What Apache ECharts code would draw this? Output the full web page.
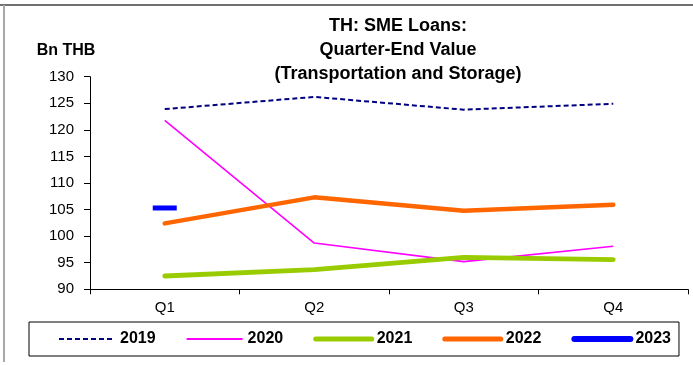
<!DOCTYPE html>
<html>
<head>
<meta charset="utf-8">
<script src="https://cdn.jsdelivr.net/npm/echarts@6/dist/echarts.min.js"></script>
<style>
  html, body { margin: 0; padding: 0; background: #fff; }
  #chart { width: 693px; height: 365px; }
</style>
</head>
<body>
<div id="chart"></div>
<script>
// Quarter-end SME loan balances, transportation & storage sector (Bn THB)
const quarters = ['Q1', 'Q2', 'Q3', 'Q4'];
const loans2019 = [123.9, 126.2, 123.8, 124.9];
const loans2020 = [121.8, 98.7, 95.2, 98.1];
const loans2021 = [92.5, 93.7, 96.0, 95.6];
const loans2022 = [102.4, 107.3, 104.8, 105.9];
const loans2023 = [105.3];
const yTicks = { min: 90, max: 130, step: 5 };

const FONT = 'Liberation Sans, Arial, sans-serif';

const chart = echarts.init(document.getElementById('chart'), null, { renderer: 'canvas' });

function lineSeries(name, data, color, width, type, cap) {
  return {
    name, type: 'line', data,
    symbol: 'none', smooth: false,
    lineStyle: { color, width, type, cap: cap || 'butt' },
    itemStyle: { color },
    emphasis: { disabled: true },
    animation: false
  };
}

// 2023 has a single quarter so far: shown as a short bar marker
const s2023 = lineSeries('2023', loans2023.map(v => ({
  value: v, symbol: 'rect', symbolSize: [24, 5]
})), '#0000ff', 5, 'solid', 'round');
s2023.showSymbol = true;

// legend swatch: line only, no symbol
function legendItem(name, width, cap) {
  return { name, itemStyle: { opacity: 0 }, lineStyle: { width, cap: cap || 'butt' } };
}

chart.setOption({
  animation: false,
  textStyle: { fontFamily: FONT },
  title: {
    text: 'TH: SME Loans:\nQuarter-End Value\n(Transportation and Storage)',
    left: 398, top: 14, textAlign: 'center', padding: 0,
    textStyle: { fontSize: 18, fontWeight: 'bold', lineHeight: 24, color: '#000', fontFamily: FONT }
  },
  grid: { left: 90, right: 5, top: 76.7, bottom: 75.7, containLabel: false },
  xAxis: {
    type: 'category', data: quarters, boundaryGap: true,
    axisLine: { lineStyle: { color: '#000', width: 1 } },
    axisTick: { show: true, inside: false, length: 5, lineStyle: { color: '#000' } },
    axisLabel: { color: '#000', fontSize: 15, margin: 11, fontFamily: FONT },
    splitLine: { show: false }
  },
  yAxis: {
    type: 'value', min: yTicks.min, max: yTicks.max, interval: yTicks.step,
    axisLine: { show: true, lineStyle: { color: '#000', width: 1 } },
    axisTick: { show: true, length: 6, lineStyle: { color: '#000' } },
    axisLabel: { color: '#000', fontSize: 15, margin: 16, fontFamily: FONT },
    splitLine: { show: false }
  },
  legend: {
    left: 29, top: 322, width: 623,
    padding: [9, 8, 9, 29],
    itemWidth: 56, itemHeight: 14, itemGap: 30,
    borderColor: '#000', borderWidth: 1,
    textStyle: { fontSize: 16, fontWeight: 'bold', color: '#000', fontFamily: FONT },
    data: [
      legendItem('2019', 2),
      legendItem('2020', 2),
      legendItem('2021', 5, 'round'),
      legendItem('2022', 5, 'round'),
      legendItem('2023', 6, 'round')
    ]
  },
  series: [
    lineSeries('2019', loans2019, '#000080', 2, [5, 3]),
    lineSeries('2020', loans2020, '#ff00ff', 1.6, 'solid'),
    lineSeries('2021', loans2021, '#99cc00', 4.8, 'solid', 'round'),
    lineSeries('2022', loans2022, '#ff6600', 4.5, 'solid', 'round'),
    s2023
  ],
  graphic: [
    { type: 'line', shape: { x1: 0, y1: 5, x2: 693, y2: 5 }, style: { stroke: '#707070', lineWidth: 2 } },
    { type: 'line', shape: { x1: 4, y1: 5, x2: 4, y2: 362 }, style: { stroke: '#a8a8a8', lineWidth: 2 } },
    { type: 'text', x: 66, y: 51, style: { text: 'Bn THB', font: 'bold 16px ' + FONT, fill: '#000', textAlign: 'center', textVerticalAlign: 'middle' } }
  ]
});
</script>
</body>
</html>
